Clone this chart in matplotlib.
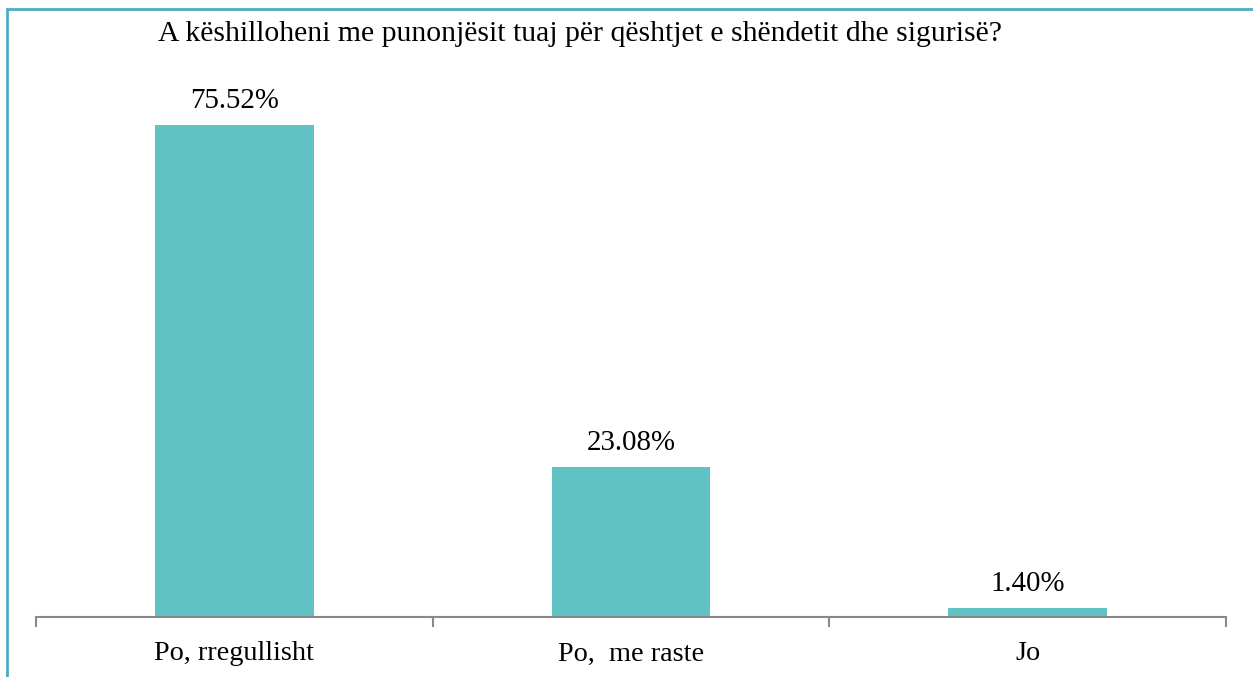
import matplotlib
matplotlib.use("Agg")
import matplotlib.pyplot as plt
from matplotlib.patches import Rectangle

categories = ["Po, rregullisht", "Po,  me raste", "Jo"]
values = [75.52, 23.08, 1.40]
labels = ["75.52%", "23.08%", "1.40%"]
title = "A këshilloheni me punonjësit tuaj për qështjet e shëndetit dhe sigurisë?"

W, H = 1253, 677
fig = plt.figure(figsize=(W / 100, H / 100), dpi=100)
plt.rcParams['font.family'] = ['Liberation Serif', 'DejaVu Serif']
FS = 20.8

ax_left, ax_right = 36 / W, 1226 / W
ax_bottom, ax_top = (H - 617) / H, (H - 80) / H
ax = fig.add_axes([ax_left, ax_bottom, ax_right - ax_left, ax_top - ax_bottom])

x = list(range(len(categories)))
ax.bar(x, values, width=0.4, color="#60C2C2", zorder=2)
ax.set_xlim(-0.5, len(categories) - 0.5)
ax.set_ylim(0, 537 / 6.515)

for xi, v, lab in zip(x, values, labels):
    ax.annotate(lab, (xi, v), xytext=(0, 17), textcoords="offset points",
                ha="center", va="center", fontsize=FS, color="#000000")

for s in ["top", "right", "left"]:
    ax.spines[s].set_visible(False)
ax.spines["bottom"].set_color("#898989")
ax.spines["bottom"].set_linewidth(1.5)
ax.set_yticks([])
ax.set_xticks([-0.5, 0.5, 1.5, 2.5])
ax.set_xticklabels([])
ax.tick_params(axis="x", length=7, width=1.5, color="#898989", direction="out")
for xi, c in zip(x, categories):
    ax.text(xi, -37 / 537, c, transform=ax.get_xaxis_transform(), ha="center",
            va="center", fontsize=20.3, color="#000000")

fig.text(580 / W, 1 - 34 / H, title, ha="center", va="center", fontsize=21.4, color="#000000")

fig.patches.append(Rectangle((7 / W, -0.05), 1.1, 1 - 9 / H + 0.05, transform=fig.transFigure,
                             fill=False, edgecolor="#4BACC6", linewidth=2, zorder=0))

fig.savefig("out.png", dpi=100)
